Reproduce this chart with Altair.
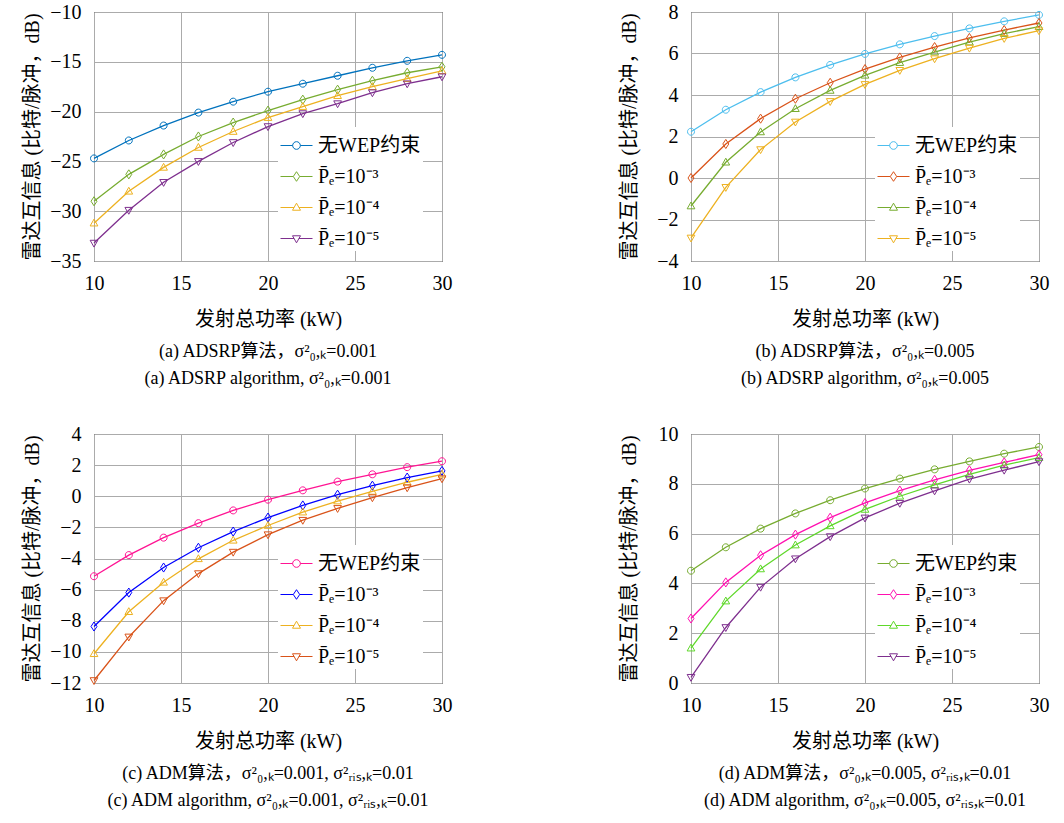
import altair as alt
import pandas as pd

power = [10, 12, 14, 16, 18, 20, 22, 24, 26, 28, 30]
x_ticks = [10, 15, 20, 25, 30]

series_names = [
    "无WEP约束",
    "P\u0304\u2091=10\u207b\u00b3",
    "P\u0304\u2091=10\u207b\u2074",
    "P\u0304\u2091=10\u207b\u2075",
]

# (a) ADSRP, sigma0=0.001
a_none = [-24.7, -22.9, -21.4, -20.1, -19.0, -18.0, -17.2, -16.4, -15.6, -14.9, -14.3]
a_e3 = [-29.0, -26.3, -24.3, -22.5, -21.1, -19.9, -18.8, -17.8, -16.9, -16.1, -15.5]
a_e4 = [-31.2, -28.0, -25.6, -23.6, -22.0, -20.6, -19.5, -18.4, -17.5, -16.7, -15.9]
a_e5 = [-33.2, -29.9, -27.1, -25.0, -23.1, -21.5, -20.2, -19.2, -18.1, -17.2, -16.5]

# (b) ADSRP, sigma0=0.005
b_none = [2.23, 3.29, 4.14, 4.85, 5.45, 5.98, 6.44, 6.84, 7.21, 7.55, 7.86]
b_e3 = [0.0, 1.64, 2.86, 3.82, 4.59, 5.25, 5.81, 6.31, 6.75, 7.13, 7.47]
b_e4 = [-1.35, 0.76, 2.22, 3.34, 4.22, 4.95, 5.56, 6.07, 6.55, 6.96, 7.29]
b_e5 = [-2.89, -0.45, 1.37, 2.70, 3.69, 4.51, 5.19, 5.75, 6.26, 6.73, 7.10]

# (c) ADM, sigma0=0.001
c_none = [-5.14, -3.78, -2.66, -1.73, -0.91, -0.22, 0.38, 0.94, 1.41, 1.87, 2.25]
c_e3 = [-8.37, -6.19, -4.58, -3.31, -2.27, -1.37, -0.59, 0.10, 0.68, 1.20, 1.63]
c_e4 = [-10.12, -7.42, -5.53, -4.02, -2.83, -1.88, -1.02, -0.31, 0.31, 0.90, 1.41]
c_e5 = [-11.84, -9.04, -6.71, -4.97, -3.59, -2.47, -1.54, -0.78, -0.09, 0.55, 1.13]

# (d) ADM, sigma0=0.005
d_none = [4.51, 5.45, 6.20, 6.81, 7.34, 7.81, 8.21, 8.58, 8.90, 9.21, 9.48]
d_e3 = [2.59, 4.04, 5.13, 5.96, 6.64, 7.23, 7.73, 8.16, 8.54, 8.86, 9.17]
d_e4 = [1.40, 3.29, 4.58, 5.54, 6.31, 6.97, 7.50, 7.96, 8.38, 8.75, 9.05]
d_e5 = [0.23, 2.23, 3.85, 4.99, 5.88, 6.63, 7.22, 7.72, 8.19, 8.55, 8.89]

colors_a = ["#0072BD", "#77AC30", "#EDB120", "#7E2F8E"]
colors_b = ["#4DBEEE", "#D95319", "#77AC30", "#EDB120"]
colors_c = ["#FF1493", "#0000FF", "#EDB120", "#D95319"]
colors_d = ["#77AC30", "#FF10B0", "#5FD82A", "#7E2F8E"]

captions_a = ["(a) ADSRP算法，σ²₀,ₖ=0.001", "(a) ADSRP algorithm, σ²₀,ₖ=0.001"]
captions_b = ["(b) ADSRP算法，σ²₀,ₖ=0.005", "(b) ADSRP algorithm, σ²₀,ₖ=0.005"]
captions_c = ["(c) ADM算法，σ²₀,ₖ=0.001, σ²ᵣᵢₛ,ₖ=0.01", "(c) ADM algorithm, σ²₀,ₖ=0.001, σ²ᵣᵢₛ,ₖ=0.01"]
captions_d = ["(d) ADM算法，σ²₀,ₖ=0.005, σ²ᵣᵢₛ,ₖ=0.01", "(d) ADM algorithm, σ²₀,ₖ=0.005, σ²ᵣᵢₛ,ₖ=0.01"]

y_title = "雷达互信息 (比特/脉冲，dB)"
x_title = "发射总功率 (kW)"

SERIF = "Liberation Serif, Noto Sans CJK SC, serif"

marker_paths = [
    "M1,0A1,1,0,1,1,-1,0A1,1,0,1,1,1,0",
    "M0,-1.3L0.85,0L0,1.3L-0.85,0Z",
    "M0,-1.15L1.1,0.8L-1.1,0.8Z",
    "M0,1.15L1.1,-0.8L-1.1,-0.8Z",
]
legend_paths = [
    "M-1,0L-0.24,0M0.24,0L1,0M0.24,0A0.24,0.24,0,1,1,-0.24,0A0.24,0.24,0,1,1,0.24,0",
    "M-1,0L-0.2,0M0.2,0L1,0M0,-0.3L0.2,0L0,0.3L-0.2,0Z",
    "M-1,0L-0.15,0M0.15,0L1,0M0,-0.27L0.25,0.17L-0.25,0.17Z",
    "M-1,0L-0.15,0M0.15,0L1,0M0,0.27L0.25,-0.17L-0.25,-0.17Z",
]


def panel(values, colors, ydom, yvals, captions, legend_y):
    rows = []
    for name, vals in zip(series_names, values):
        for p, v in zip(power, vals):
            rows.append({"power": p, "mi": v, "series": name})
    df = pd.DataFrame(rows)
    base = alt.Chart(df)
    x = alt.X(
        "power:Q",
        scale=alt.Scale(domain=[10, 30], nice=False),
        axis=alt.Axis(values=x_ticks, format="d", title=x_title, labelPadding=12,
                      labelFlush=False, titleY=58, titleBaseline="middle",
                      labelFont=SERIF, titleFont=SERIF),
    )
    y = alt.Y(
        "mi:Q",
        scale=alt.Scale(domain=ydom, nice=False, zero=False),
        axis=alt.Axis(values=yvals, format="d", title=y_title, labelPadding=13,
                      labelFlush=False, titleX=-52, labelFont=SERIF, titleFont=SERIF),
    )
    color_plain = alt.Color("series:N", scale=alt.Scale(domain=series_names, range=colors), legend=None)
    lines = base.mark_line(strokeWidth=1.3).encode(x=x, y=y, color=color_plain, detail="series:N")
    pts = base.mark_point(filled=False, size=49, strokeWidth=1, opacity=1).encode(
        x=x, y=y, color=color_plain,
        shape=alt.Shape("series:N", scale=alt.Scale(domain=series_names, range=marker_paths), legend=None),
    )
    leg = alt.Legend(
        orient="none", legendX=184, legendY=legend_y, title=None, fillColor="white",
        padding=2, symbolSize=1024, symbolStrokeWidth=1, labelFont=SERIF, labelFontSize=20,
        labelColor="black", labelOffset=5, rowPadding=4, labelLimit=300, symbolOpacity=1,
    )
    legend_layer = base.transform_filter("false").mark_point(filled=False, strokeWidth=1).encode(
        x=x, y=y,
        color=alt.Color("series:N", scale=alt.Scale(domain=series_names, range=colors), legend=leg),
        shape=alt.Shape("series:N", scale=alt.Scale(domain=series_names, range=legend_paths), legend=leg),
    )
    return alt.layer(lines, pts, legend_layer).resolve_scale(
        color="independent", shape="independent"
    ).properties(
        width=348, height=249,
        title=alt.TitleParams(text=captions, orient="bottom", anchor="middle", fontSize=18,
                              font=SERIF, fontWeight="normal", lineHeight=27, offset=14,
                              frame="group", color="black"),
    )


pa = panel([a_none, a_e3, a_e4, a_e5], colors_a, [-35, -10], [-35, -30, -25, -20, -15, -10], captions_a, 115)
pb = panel([b_none, b_e3, b_e4, b_e5], colors_b, [-4, 8], [-4, -2, 0, 2, 4, 6, 8], captions_b, 115)
pc = panel([c_none, c_e3, c_e4, c_e5], colors_c, [-12, 4], [-12, -10, -8, -6, -4, -2, 0, 2, 4], captions_c, 111)
pd_ = panel([d_none, d_e3, d_e4, d_e5], colors_d, [0, 10], [0, 2, 4, 6, 8, 10], captions_d, 111)

chart = alt.concat(pa, pb, pc, pd_, columns=2, spacing={"row": 173, "column": 249}, bounds="flush").properties(
    padding={"left": 21, "top": 1, "right": 5, "bottom": 5},
    background="white",
).configure(
    font=SERIF
).configure_view(
    stroke="black", strokeWidth=1
).configure_axis(
    grid=True, gridColor="#ababab", gridWidth=1, domain=False, ticks=False,
    labelFont=SERIF, labelFontSize=20, labelColor="black",
    titleFont=SERIF, titleFontSize=20, titleFontWeight="normal", titleColor="black",
).configure_legend(
    labelFont=SERIF
).configure_title(
    font=SERIF
)

chart.save("out.html", embed_options={"renderer": "svg", "actions": False})
